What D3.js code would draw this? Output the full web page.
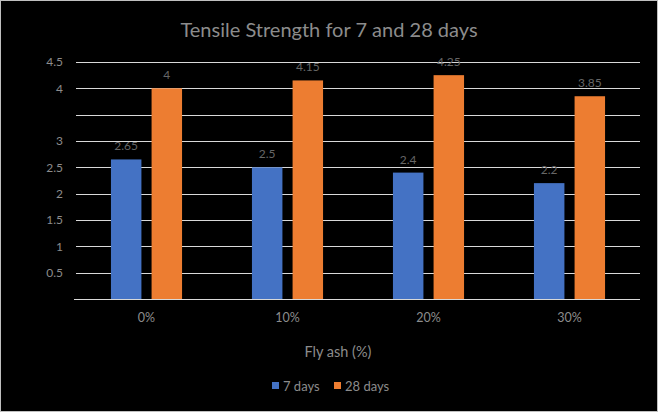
<!DOCTYPE html>
<html>
<head>
<meta charset="utf-8">
<script src="https://cdn.jsdelivr.net/npm/d3@7"></script>
<style>
  body { margin: 0; background: #d9d9d9; }
  svg { display: block; }
  text { font-family: Lato, "Open Sans", sans-serif; }
</style>
</head>
<body>
<div id="chart"></div>
<script>
// Données du graphique
const categories = ['0%', '10%', '20%', '30%'];
const seriesNames = ['7 days', '28 days'];
const days7 = [2.65, 2.5, 2.4, 2.2];
const days28 = [4, 4.15, 4.25, 3.85];
const labels7 = ['2.65', '2.5', '2.4', '2.2'];
const labels28 = ['4', '4.15', '4.25', '3.85'];
const gridValues = [0.5, 1, 1.5, 2, 2.5, 3, 3.5, 4, 4.5];
const tickLabels = ['0.5', '1', '1.5', '2', '2.5', '3', '', '4', '4.5'];
const colors = ['#4472C4', '#ED7D31'];

const width = 658, height = 412;
const margin = { top: 62, right: 18, bottom: 113, left: 76 };

const svg = d3.select('#chart').append('svg')
    .attr('width', width)
    .attr('height', height);

// Fond noir avec bordure
svg.append('rect')
    .attr('x', 0.5).attr('y', 0.5)
    .attr('width', width - 1).attr('height', height - 1)
    .attr('fill', '#000')
    .attr('stroke', '#bfbfbf');

const x = d3.scaleBand()
    .domain(categories)
    .range([margin.left, width - margin.right]);

const x1 = d3.scaleBand()
    .domain(seriesNames)
    .range([0, x.bandwidth()])
    .paddingInner(0.25)
    .paddingOuter(0.86);

const y = d3.scaleLinear()
    .domain([0, 4.5])
    .range([height - margin.bottom, margin.top]);

// Titre
svg.append('text')
    .attr('x', width / 2)
    .attr('y', 37)
    .attr('text-anchor', 'middle')
    .attr('fill', '#8c8c8c')
    .attr('font-size', 20)
    .text('Tensile Strength for 7 and 28 days');

// Lignes de grille
svg.append('g')
    .selectAll('line')
    .data(gridValues)
    .enter().append('line')
    .attr('x1', margin.left)
    .attr('x2', width - margin.right)
    .attr('y1', d => Math.round(y(d)) + 0.5)
    .attr('y2', d => Math.round(y(d)) + 0.5)
    .attr('stroke', '#d9d9d9')
    .attr('stroke-width', 1);

// Axe Y (étiquettes seulement)
const yAxis = svg.append('g')
    .attr('transform', `translate(${margin.left},0)`)
    .call(d3.axisLeft(y)
        .tickValues(gridValues)
        .tickSize(0)
        .tickPadding(13)
        .tickFormat((d, i) => tickLabels[i]));
yAxis.select('.domain').remove();
yAxis.selectAll('text')
    .attr('fill', '#8c8c8c')
    .attr('font-size', 12)
    .style('font-family', 'Lato, sans-serif');

// Barres
const groups = svg.append('g')
    .selectAll('g')
    .data(categories)
    .enter().append('g')
    .attr('transform', d => `translate(${x(d)},0)`);

const bars = groups.selectAll('rect')
    .data((d, i) => [
        { s: seriesNames[0], v: days7[i], l: labels7[i], c: colors[0] },
        { s: seriesNames[1], v: days28[i], l: labels28[i], c: colors[1] }
    ])
    .enter();

bars.append('rect')
    .attr('x', d => x1(d.s))
    .attr('y', d => y(d.v))
    .attr('width', x1.bandwidth())
    .attr('height', d => y(0) - y(d.v))
    .attr('fill', d => d.c);

// Étiquettes de données
bars.append('text')
    .attr('x', d => x1(d.s) + x1.bandwidth() / 2)
    .attr('y', d => y(d.v) - 9)
    .attr('text-anchor', 'middle')
    .attr('fill', '#666')
    .attr('font-size', 12)
    .text(d => d.l);

// Axe X
const xAxis = svg.append('g')
    .attr('transform', `translate(0,${y(0)})`)
    .call(d3.axisBottom(x).tickSize(0).tickPadding(14));
xAxis.select('.domain')
    .attr('stroke', '#d9d9d9')
    .attr('d', `M${margin.left - 2},0.5H${width - margin.right}`);
xAxis.selectAll('text')
    .attr('fill', '#8c8c8c')
    .attr('font-size', 12.5)
    .style('font-family', 'Lato, sans-serif');

// Titre de l'axe X
svg.append('text')
    .attr('x', 338)
    .attr('y', 357)
    .attr('text-anchor', 'middle')
    .attr('fill', '#8c8c8c')
    .attr('font-size', 14.5)
    .text('Fly ash (%)');

// Légende
const legend = svg.append('g')
    .attr('transform', 'translate(272,386)');
const legendX = [0, 62];
seriesNames.forEach((name, i) => {
    const item = legend.append('g').attr('transform', `translate(${legendX[i]},0)`);
    item.append('rect')
        .attr('x', 0).attr('y', -4)
        .attr('width', 7).attr('height', 7)
        .attr('fill', colors[i]);
    item.append('text')
        .attr('x', 11)
        .attr('y', 4.5)
        .attr('fill', '#8c8c8c')
        .attr('font-size', 13)
        .text(name);
});
</script>
</body>
</html>
